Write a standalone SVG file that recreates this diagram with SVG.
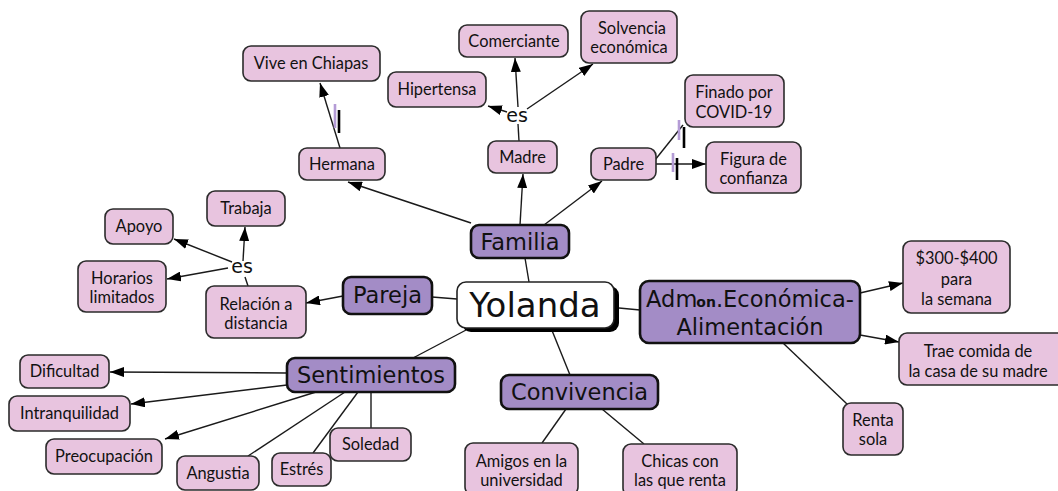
<svg xmlns="http://www.w3.org/2000/svg" width="1058" height="491" viewBox="0 0 1058 491">
<defs>
<marker id="ah" viewBox="0 0 14 10" refX="14" refY="5" markerWidth="14" markerHeight="10" orient="auto" markerUnits="userSpaceOnUse"><path d="M0,0 L14,5 L0,10 z" fill="#000"/></marker>
<style>
.pk{fill:#e8c4df;stroke:#2b2b2b;stroke-width:1.6}
.pu{fill:#a38cc6;stroke:#111;stroke-width:2.6}
.pt{font-family:Lato,"Noto Sans",sans-serif;font-size:16.4px;fill:#111;text-anchor:middle}
.ut{font-family:"DejaVu Sans",sans-serif;font-size:22.5px;fill:#111;text-anchor:middle}
.es{font-family:"DejaVu Sans",sans-serif;font-size:19px;fill:#111;text-anchor:middle}
.cn{stroke:#1a1a1a;stroke-width:1.4;fill:none}
.ar{marker-end:url(#ah)}
.bp{stroke:#b49cd6;stroke-width:2.6}
.bk{stroke:#000;stroke-width:2.6}
</style>
</defs>
<rect width="1058" height="491" fill="#fff"/>
<g id="connectors">
<path class="cn" d="M529,282 L525,258"/>
<path class="cn ar" d="M471,223 L348,182"/>
<path class="cn ar" d="M520,225 L523,174"/>
<path class="cn ar" d="M544,225 L602,181"/>
<path class="cn" d="M519,141 L518,124"/>
<path class="cn ar" d="M507,112 L488,106"/>
<path class="cn ar" d="M518,107 L515,58"/>
<path class="cn ar" d="M527,109 L593,64"/>
<path class="cn ar" d="M340,148 L320,83"/>
<path class="cn" d="M655,160 L683,125"/>
<path class="cn ar" d="M656,164 L706,164"/>
<path class="cn" d="M457,299 L432,297"/>
<path class="cn ar" d="M343,296 L306,303"/>
<path class="cn" d="M248,286 L245,277"/>
<path class="cn ar" d="M243,261 L245,227"/>
<path class="cn ar" d="M232,262 L174,239"/>
<path class="cn ar" d="M228,268 L167,279"/>
<path class="cn" d="M468,329 L413,358"/>
<path class="cn ar" d="M287,373 L110,372"/>
<path class="cn ar" d="M287,385 L131,404"/>
<path class="cn ar" d="M316,392 L165,439"/>
<path class="cn" d="M345,392 L248,456"/>
<path class="cn" d="M358,392 L313,453"/>
<path class="cn" d="M371,392 L371,428"/>
<path class="cn" d="M551,328 L570,375"/>
<path class="cn" d="M566,409 L542,443"/>
<path class="cn" d="M602,409 L644,444"/>
<path class="cn" d="M619,308 L640,310"/>
<path class="cn ar" d="M860,293 L903,283"/>
<path class="cn ar" d="M860,335 L899,342"/>
<path class="cn" d="M783,343 L847,404"/>
<line class="bp" x1="335" y1="104" x2="335" y2="128"/>
<line class="bk" x1="339" y1="110" x2="339" y2="133"/>
<line class="bp" x1="679" y1="120" x2="679" y2="140"/>
<line class="bk" x1="684" y1="127" x2="684" y2="148"/>
<line class="bp" x1="673" y1="153" x2="673" y2="172"/>
<line class="bk" x1="677" y1="158" x2="677" y2="180"/>
<text class="es" x="517" y="122">es</text>
<text class="es" x="242" y="273">es</text>
</g>
<g id="n-vive"><rect class="pk" x="243" y="46" width="137" height="35" rx="8"/><text class="pt" x="311" y="69">Vive en Chiapas</text></g>
<g id="n-comerciante"><rect class="pk" x="459" y="25" width="109" height="32" rx="8"/><text class="pt" x="514" y="47">Comerciante</text></g>
<g id="n-solvencia"><rect class="pk" x="581" y="11" width="96" height="52" rx="8"/><text class="pt" x="632" y="34">Solvencia</text><text class="pt" x="629" y="53">económica</text></g>
<g id="n-hipertensa"><rect class="pk" x="388" y="72" width="98" height="35" rx="8"/><text class="pt" x="437" y="95">Hipertensa</text></g>
<g id="n-finado"><rect class="pk" x="685" y="75" width="99" height="52" rx="8"/><text class="pt" x="734" y="98">Finado por</text><text class="pt" x="734" y="118">COVID-19</text></g>
<g id="n-madre"><rect class="pk" x="488" y="141" width="69" height="32" rx="8"/><text class="pt" x="522.5" y="163">Madre</text></g>
<g id="n-padre"><rect class="pk" x="591" y="148" width="65" height="32" rx="8"/><text class="pt" x="623.5" y="170">Padre</text></g>
<g id="n-figura"><rect class="pk" x="706" y="142" width="95" height="51" rx="8"/><text class="pt" x="753.5" y="165">Figura de</text><text class="pt" x="753.5" y="184">confianza</text></g>
<g id="n-hermana"><rect class="pk" x="299" y="148" width="86" height="32" rx="8"/><text class="pt" x="342" y="170">Hermana</text></g>
<g id="n-trabaja"><rect class="pk" x="207" y="191" width="78" height="35" rx="8"/><text class="pt" x="246" y="214">Trabaja</text></g>
<g id="n-apoyo"><rect class="pk" x="105" y="209" width="68" height="35" rx="8"/><text class="pt" x="139" y="232">Apoyo</text></g>
<g id="n-horarios"><rect class="pk" x="78" y="261" width="88" height="51" rx="8"/><text class="pt" x="122" y="284">Horarios</text><text class="pt" x="122" y="303">limitados</text></g>
<g id="n-relacion"><rect class="pk" x="206" y="286" width="100" height="52" rx="8"/><text class="pt" x="256" y="310">Relación a</text><text class="pt" x="256" y="329">distancia</text></g>
<g id="n-300"><rect class="pk" x="903" y="241" width="107" height="72" rx="8"/><text class="pt" x="956.5" y="264">$300-$400</text><text class="pt" x="956.5" y="285">para</text><text class="pt" x="956.5" y="305">la semana</text></g>
<g id="n-trae"><rect class="pk" x="899" y="333" width="170" height="52" rx="8"/><text class="pt" x="978" y="357">Trae comida de</text><text class="pt" x="978" y="377">la casa de su madre</text></g>
<g id="n-renta"><rect class="pk" x="843" y="403" width="60" height="52" rx="8"/><text class="pt" x="873" y="426">Renta</text><text class="pt" x="873" y="445">sola</text></g>
<g id="n-dificultad"><rect class="pk" x="20" y="355" width="89" height="33" rx="8"/><text class="pt" x="64.5" y="377">Dificultad</text></g>
<g id="n-intranquilidad"><rect class="pk" x="9" y="396" width="121" height="35" rx="8"/><text class="pt" x="69.5" y="419">Intranquilidad</text></g>
<g id="n-preocupacion"><rect class="pk" x="46" y="439" width="116" height="35" rx="8"/><text class="pt" x="104" y="462">Preocupación</text></g>
<g id="n-angustia"><rect class="pk" x="177" y="456" width="82" height="34" rx="8"/><text class="pt" x="218" y="479">Angustia</text></g>
<g id="n-estres"><rect class="pk" x="272" y="453" width="59" height="33" rx="8"/><text class="pt" x="301.5" y="475">Estrés</text></g>
<g id="n-soledad"><rect class="pk" x="330" y="428" width="81" height="33" rx="8"/><text class="pt" x="370.5" y="450">Soledad</text></g>
<g id="n-amigos"><rect class="pk" x="465" y="443" width="113" height="52" rx="8"/><text class="pt" x="521.5" y="467">Amigos en la</text><text class="pt" x="521.5" y="486">universidad</text></g>
<g id="n-chicas"><rect class="pk" x="623" y="444" width="114" height="52" rx="8"/><text class="pt" x="680" y="467">Chicas con</text><text class="pt" x="680" y="486">las que renta</text></g>
<g id="n-familia"><rect class="pu" x="471" y="225" width="98" height="33" rx="8"/><text class="ut" x="520" y="250">Familia</text></g>
<g id="n-pareja"><rect class="pu" x="343" y="277" width="89" height="37" rx="8"/><text class="ut" x="387.5" y="303">Pareja</text></g>
<g id="n-sentimientos"><rect class="pu" x="287" y="358" width="168" height="34" rx="8"/><text class="ut" x="371" y="383">Sentimientos</text></g>
<g id="n-convivencia"><rect class="pu" x="501" y="375" width="157" height="34" rx="8"/><text class="ut" x="579.5" y="400">Convivencia</text></g>
<g id="n-admon"><rect class="pu" x="640" y="281" width="220" height="62" rx="9"/><text class="ut" x="750" y="307" font-size="23">Adm<tspan font-size="14" font-weight="bold" dx="-1">on</tspan>.Económica-</text><text class="ut" x="750" y="335" font-size="23">Alimentación</text></g>
<g id="n-yolanda"><rect x="462" y="286" width="157" height="46" rx="9" fill="#000"/><rect x="457" y="282" width="157" height="46" rx="9" fill="#fff" stroke="#222" stroke-width="1.6"/><text x="535" y="317" font-family="DejaVu Sans,sans-serif" font-size="34" fill="#111" text-anchor="middle">Yolanda</text></g>
</svg>
